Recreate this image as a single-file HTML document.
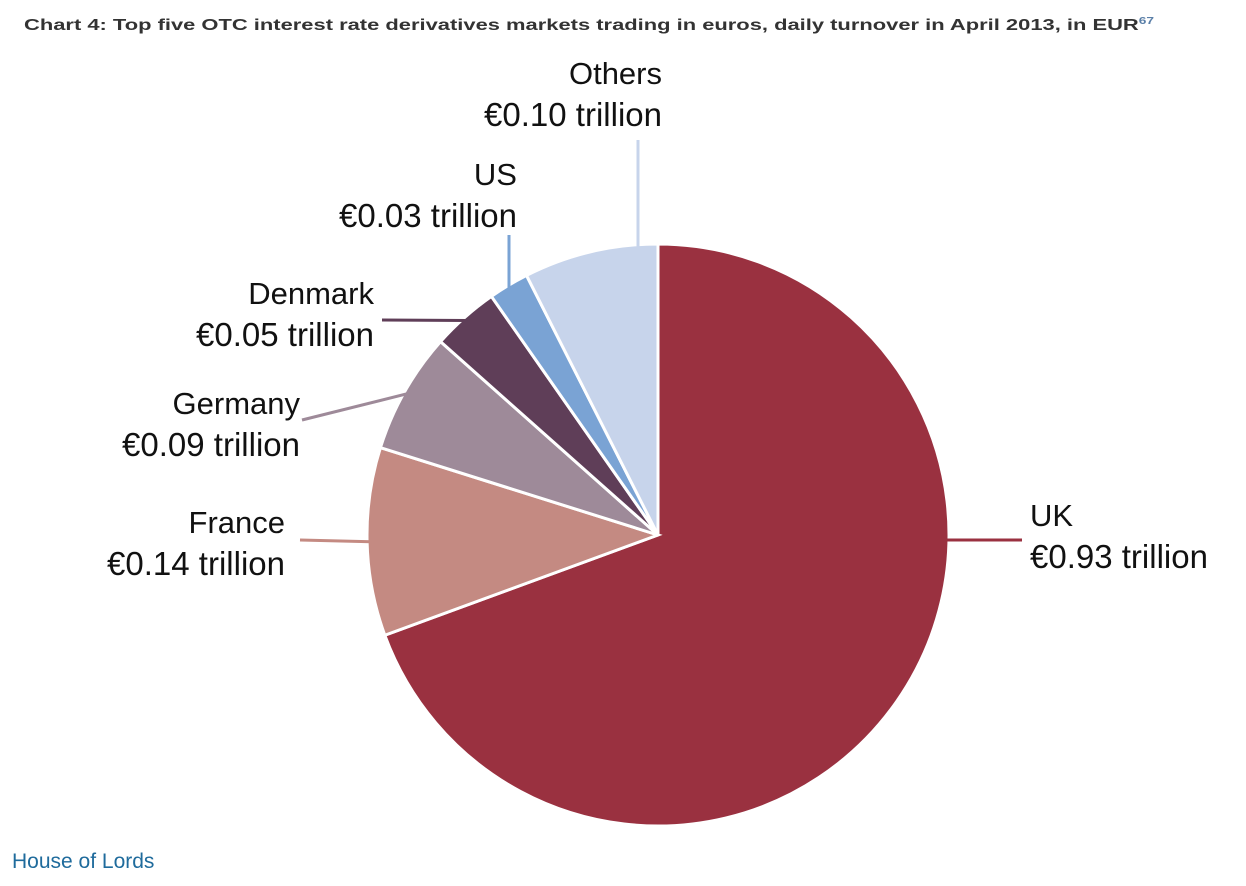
<!DOCTYPE html>
<html><head><meta charset="utf-8"><style>
body{margin:0;background:#fff;width:1246px;height:886px;overflow:hidden}
svg{display:block;font-family:"Liberation Sans",sans-serif}
</style></head><body>
<svg id="chart" width="1246" height="886">
<text x="24" y="30" font-size="16" font-weight="bold" fill="#333" textLength="1130" lengthAdjust="spacingAndGlyphs">Chart 4: Top five OTC interest rate derivatives markets trading in euros, daily turnover in April 2013, in EUR<tspan font-size="10" dy="-6" fill="#5a7fa8">67</tspan></text>
<g id="slices"></g>
<g id="labels"></g>
<text x="12" y="868" font-size="21" fill="#1f6b9c">House of Lords</text>
</svg>
<script>
const categories=["UK","France","Germany","Denmark","US","Others"];
const values=[0.93,0.14,0.09,0.05,0.03,0.10];
const valueLabels=["€0.93 trillion","€0.14 trillion","€0.09 trillion","€0.05 trillion","€0.03 trillion","€0.10 trillion"];
const colors=["#9a3140","#c48a82","#9e8a99","#5f3e58","#7aa3d4","#c7d4eb"];
const cx=658,cy=535,r=291;
const total=values.reduce((a,b)=>a+b,0);
const NS="http://www.w3.org/2000/svg";
const sg=document.getElementById('slices'),lg=document.getElementById('labels');
function pt(a,rr){return [cx+rr*Math.sin(a),cy-rr*Math.cos(a)];}
// label layout: [anchor, x, y-name, leader points from mid-angle edge]
const layout=[
 {anchor:"start",x:1030,y:526,lx:1022,ly:540},
 {anchor:"end",x:285,y:533,lx:300,ly:540},
 {anchor:"end",x:300,y:414,lx:302,ly:420},
 {anchor:"end",x:374,y:304,lx:382,ly:320},
 {anchor:"end",x:517,y:185,lx:509,ly:235},
 {anchor:"end",x:662,y:84,lx:638,ly:140}
];
let acc=0;
values.forEach((v,i)=>{
  const a0=acc/total*2*Math.PI;acc+=v;const a1=acc/total*2*Math.PI;
  const p0=pt(a0,r),p1=pt(a1,r);
  const large=(a1-a0)>Math.PI?1:0;
  const p=document.createElementNS(NS,'path');
  p.setAttribute('d',`M${cx},${cy}L${p0[0]},${p0[1]}A${r},${r} 0 ${large} 1 ${p1[0]},${p1[1]}Z`);
  p.setAttribute('fill',colors[i]);p.setAttribute('stroke','#fff');p.setAttribute('stroke-width','3');
  
  
  sg.appendChild(p);
  const L=layout[i];const am=(a0+a1)/2;const e=pt(am,r-4);
  let d;
  if(i===0) d=`M${e[0]},${L.ly}L${L.lx},${L.ly}`;
  else if(i>=4) d=`M${L.lx},${L.ly}L${L.lx},${e[1]+ (i===5?0:0)}L${e[0]},${e[1]}`;
  else d=`M${L.lx},${L.ly}L${e[0]},${L.ly}L${e[0]},${e[1]}`;
  if(i===1||i===2) d=`M${L.lx},${L.ly}L${e[0]},${e[1]}`;
  if(i===3) d=`M${L.lx},${L.ly}L${e[0]},${e[1]}`;
  const l=document.createElementNS(NS,'path');
  l.setAttribute('d',d);l.setAttribute('stroke',colors[i]);l.setAttribute('stroke-width','3');l.setAttribute('fill','none');
  
  
  lg.appendChild(l);
  const t1=document.createElementNS(NS,'text');
  t1.setAttribute('x',L.x);t1.setAttribute('y',L.y);t1.setAttribute('text-anchor',L.anchor);
  t1.setAttribute('font-size','31');t1.setAttribute('fill','#111');t1.textContent=categories[i];
  
  
  lg.appendChild(t1);
  const t2=document.createElementNS(NS,'text');
  t2.setAttribute('x',L.x);t2.setAttribute('y',L.y+42);t2.setAttribute('text-anchor',L.anchor);
  t2.setAttribute('font-size','33');t2.setAttribute('fill','#111');t2.textContent=valueLabels[i];
  
  
  lg.appendChild(t2);
});
</script>
</body></html>
